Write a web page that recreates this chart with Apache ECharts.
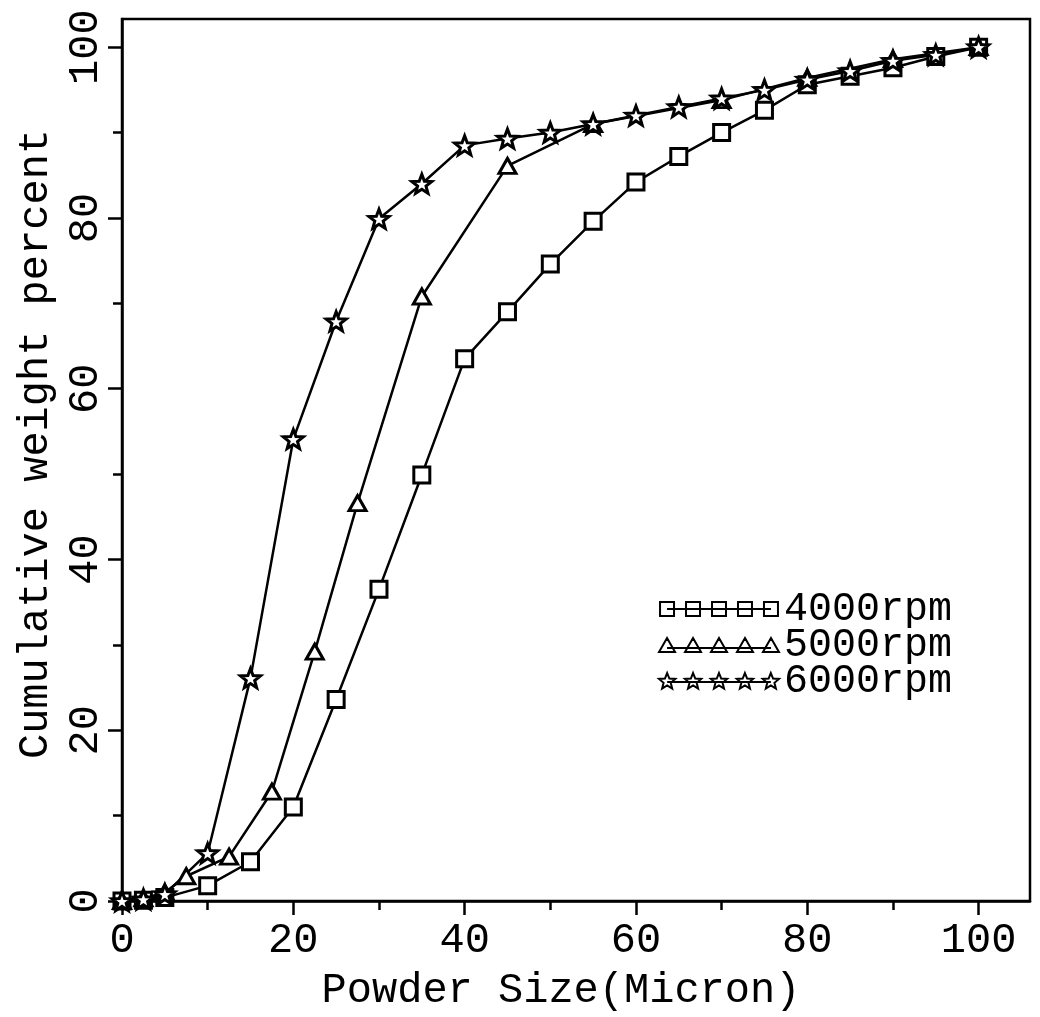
<!DOCTYPE html>
<html>
<head>
<meta charset="utf-8">
<title>Cumulative weight percent</title>
<script src="https://cdn.jsdelivr.net/npm/echarts@6/dist/echarts.min.js"></script>
<style>
html,body{margin:0;padding:0;background:#fff;}
#main{width:1040px;height:1017px;}
</style>
</head>
<body>
<div id="main"></div>
<script>
// powder size (micron) / cumulative weight percent
var size4000 = [0, 2.5, 5, 10, 15, 20, 25, 30, 35, 40, 45, 50, 55, 60, 65, 70, 75, 80, 85, 90, 95, 100];
var pct4000  = [0, 0.1, 0.4, 1.8, 4.6, 11.0, 23.6, 36.5, 49.9, 63.5, 69.0, 74.6, 79.6, 84.2, 87.2, 90.0, 92.6, 95.6, 96.6, 97.6, 98.9, 100];
var size5000 = [0, 2.5, 5, 7.5, 12.5, 17.5, 22.5, 27.5, 35, 45, 55, 70, 80, 90, 100];
var pct5000  = [0, 0.3, 1.0, 2.9, 5.2, 12.8, 29.2, 46.6, 70.8, 86.1, 91.0, 93.8, 96.4, 98.6, 100];
var size6000 = [0, 2.5, 5, 10, 15, 20, 25, 30, 35, 40, 45, 50, 55, 60, 65, 70, 75, 80, 85, 90, 95, 100];
var pct6000  = [0, 0.2, 0.8, 5.6, 26.1, 54.1, 67.9, 79.9, 84.0, 88.5, 89.3, 90.0, 91.0, 92.0, 93.0, 94.0, 95.0, 96.2, 97.2, 98.4, 99.1, 100];

var seriesNames = ['4000rpm', '5000rpm', '6000rpm'];
var majorTicks = [0, 20, 40, 60, 80, 100];
var minorTicks = [10, 30, 50, 70, 90];

var FONT = 'Liberation Mono';

function pairs(xs, ys) {
    var res = [];
    for (var i = 0; i < xs.length; i++) {
        res.push([xs[i], ys[i]]);
    }
    return res;
}

// 5 point star, top point up
function starPath(cx, cy, R, r) {
    var s = '';
    for (var i = 0; i < 10; i++) {
        var a = Math.PI / 5 * i - Math.PI / 2;
        var rad = i % 2 ? r : R;
        s += (i ? 'L' : 'M') + (cx + rad * Math.cos(a)).toFixed(2) + ',' + (cy + rad * Math.sin(a)).toFixed(2);
    }
    return s + 'Z';
}

// legend icon: five markers joined by a line (120 x 16 box)
function rowIcon(shape) {
    var d = '';
    var mid = 8;
    for (var i = 0; i < 5; i++) {
        var cx = 8 + i * 26;
        if (shape == 'rect') {
            d += 'M' + (cx - 7) + ',1L' + (cx + 7) + ',1L' + (cx + 7) + ',15L' + (cx - 7) + ',15Z';
        } else if (shape == 'tri') {
            d += 'M' + cx + ',1L' + (cx + 8) + ',15L' + (cx - 8) + ',15Z';
            mid = 11;
        } else {
            d += starPath(cx, 8.6, 8.6, 3.8);
            mid = 9;
        }
    }
    d += 'M0,0L0.01,0M120,16L120,16.01';
    d += 'M8,' + mid + 'L112,' + mid;
    return 'path://' + d;
}

var starSymbol = 'path://' + starPath(10, 10, 10, 4.2);

var dom = document.getElementById('main');
var myChart = echarts.init(dom);
var option = {
    animation: false,
    backgroundColor: '#fff',
    textStyle: {fontFamily: FONT, color: '#000'},
    grid: {
        left: 122, right: 10, top: 19, bottom: 109,
        show: true, borderColor: '#000', borderWidth: 2.5
    },
    legend: {
        orient: 'vertical',
        left: 653,
        top: 584,
        itemWidth: 120,
        itemHeight: 16,
        itemGap: -4,
        selectedMode: false,
        textStyle: {fontFamily: FONT, fontSize: 40, color: '#000'},
        data: [
            {name: seriesNames[0], icon: rowIcon('rect')},
            {name: seriesNames[1], icon: rowIcon('tri')},
            {name: seriesNames[2], icon: rowIcon('star')}
        ]
    },
    xAxis: [{
        type: 'value',
        min: 0,
        max: 106,
        position: 'bottom',
        axisLine: {show: true, onZero: false, lineStyle: {color: '#000', width: 2.5}},
        axisTick: {show: true, customValues: majorTicks, length: 14, lineStyle: {color: '#000', width: 2.5}},
        axisLabel: {customValues: majorTicks, margin: 19, fontFamily: FONT, fontSize: 42, color: '#000'},
        splitLine: {show: false},
        name: 'Powder Size(Micron)',
        nameLocation: 'middle',
        nameGap: 69,
        nameTextStyle: {fontFamily: FONT, fontSize: 42, color: '#000', padding: [0, 30, 0, 0]}
    }, {
        type: 'value',
        min: 0,
        max: 106,
        position: 'bottom',
        axisLine: {show: false, onZero: false},
        axisTick: {show: true, customValues: minorTicks, length: 9, lineStyle: {color: '#000', width: 2.5}},
        axisLabel: {show: false},
        splitLine: {show: false}
    }],
    yAxis: [{
        type: 'value',
        min: 0,
        max: 103.3,
        position: 'left',
        axisLine: {show: true, onZero: false, lineStyle: {color: '#000', width: 2.5}},
        axisTick: {show: true, customValues: majorTicks, length: 14, lineStyle: {color: '#000', width: 2.5}},
        axisLabel: {customValues: majorTicks, rotate: 90, margin: 15, fontFamily: FONT, fontSize: 42, color: '#000'},
        splitLine: {show: false},
        name: 'Cumulative weight percent',
        nameLocation: 'middle',
        nameGap: 60,
        nameTextStyle: {fontFamily: FONT, fontSize: 42, color: '#000', padding: [0, 0, 0, 32]}
    }, {
        type: 'value',
        min: 0,
        max: 103.3,
        position: 'left',
        axisLine: {show: false, onZero: false},
        axisTick: {show: true, customValues: minorTicks, length: 9, lineStyle: {color: '#000', width: 2.5}},
        axisLabel: {show: false},
        splitLine: {show: false}
    }],
    series: [
        {
            name: seriesNames[0],
            type: 'line',
            data: pairs(size4000, pct4000),
            symbol: 'rect',
            symbolSize: 16,
            lineStyle: {color: '#000', width: 2.5},
            itemStyle: {color: '#fff', borderColor: '#000', borderWidth: 3}
        },
        {
            name: seriesNames[1],
            type: 'line',
            data: pairs(size5000, pct5000),
            symbol: 'triangle',
            symbolSize: [17, 15],
            lineStyle: {color: '#000', width: 2.5},
            itemStyle: {color: '#fff', borderColor: '#000', borderWidth: 3}
        },
        {
            name: seriesNames[2],
            type: 'line',
            data: pairs(size6000, pct6000),
            symbol: starSymbol,
            symbolSize: 20,
            symbolKeepAspect: true,
            lineStyle: {color: '#000', width: 2.5},
            itemStyle: {color: '#fff', borderColor: '#000', borderWidth: 3}
        }
    ]
};
myChart.setOption(option);
</script>
</body>
</html>
